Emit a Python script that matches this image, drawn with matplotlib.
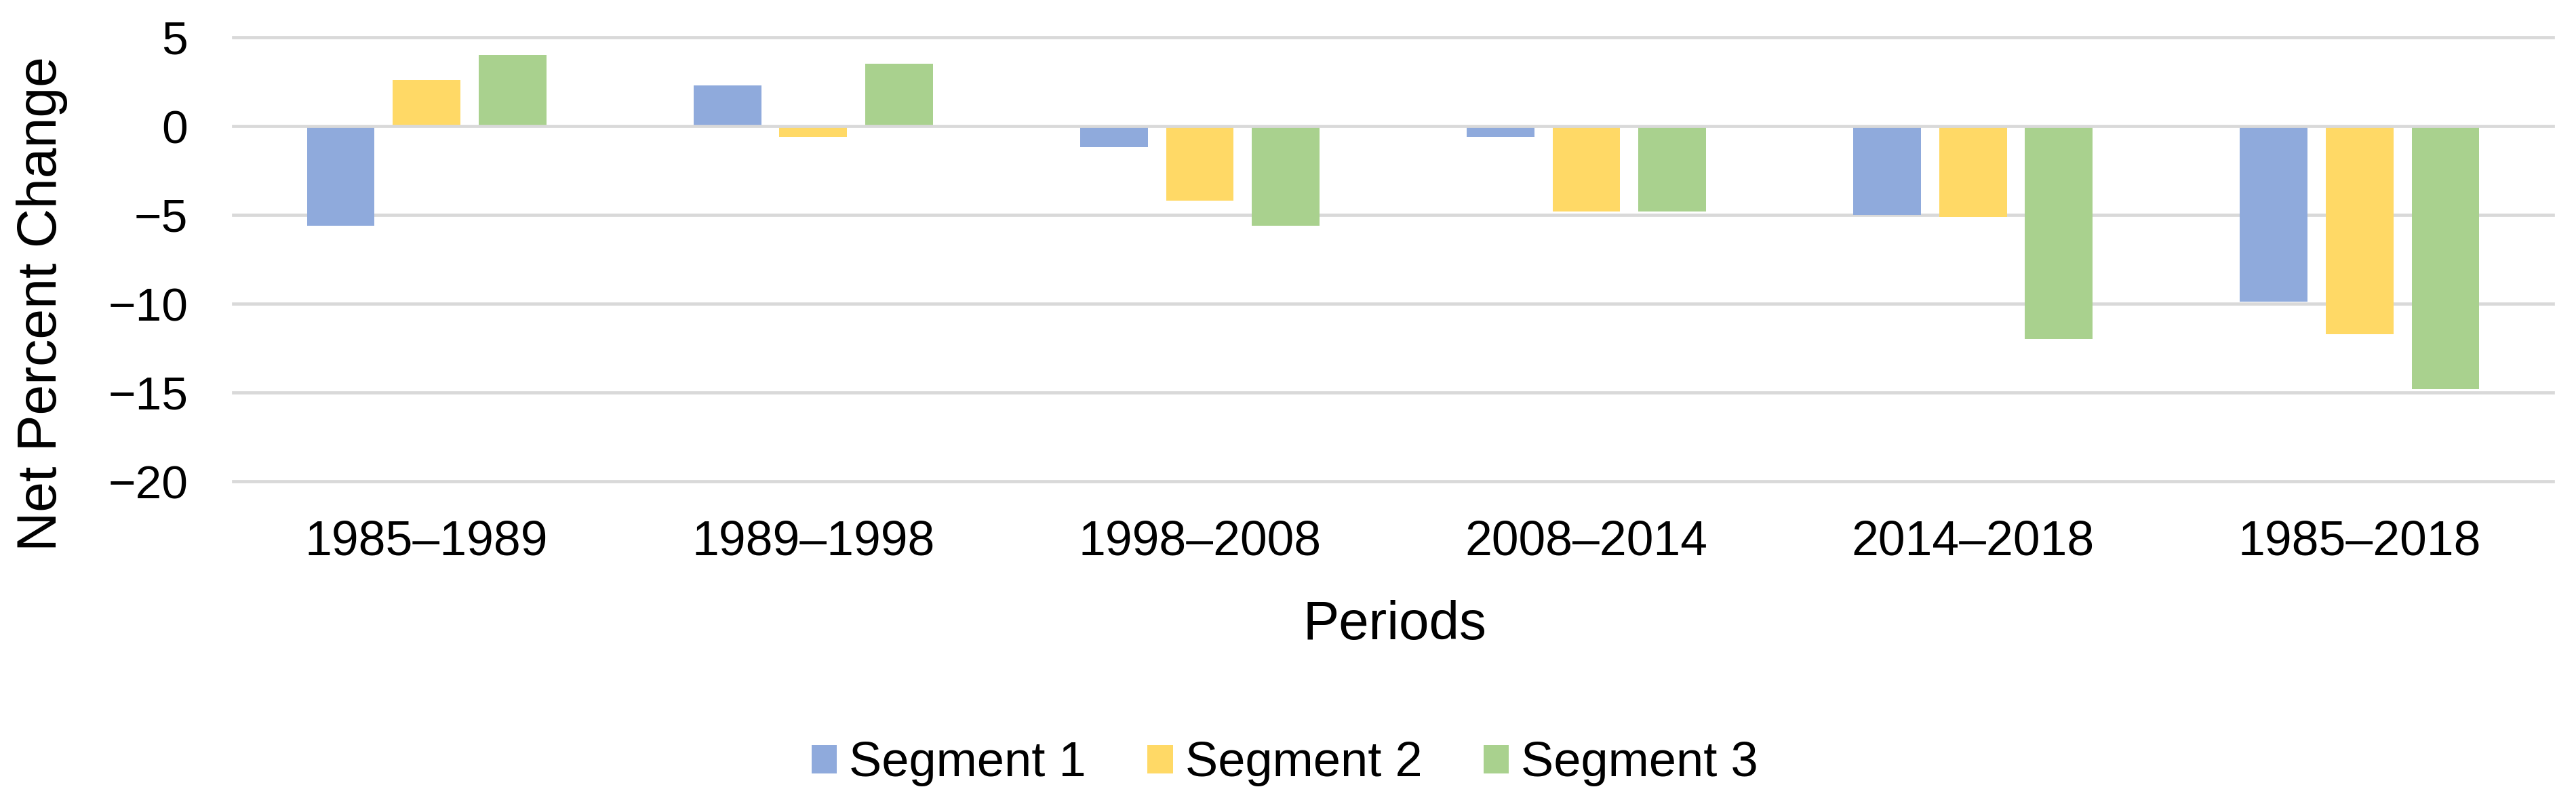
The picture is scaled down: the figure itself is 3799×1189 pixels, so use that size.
import matplotlib
matplotlib.use("Agg")
import matplotlib.pyplot as plt
import numpy as np

plt.rcParams['font.family'] = ['Liberation Sans', 'DejaVu Sans']

periods = ["1985–1989", "1989–1998", "1998–2008", "2008–2014", "2014–2018", "1985–2018"]
segment_1 = [-5.6, 2.3, -1.2, -0.6, -5.0, -9.9]
segment_2 = [2.6, -0.6, -4.2, -4.8, -5.1, -11.7]
segment_3 = [4.0, 3.5, -5.6, -4.8, -12.0, -14.8]
series_names = ["Segment 1", "Segment 2", "Segment 3"]
y_ticks = [5, 0, -5, -10, -15, -20]

colors = ["#8FAADC", "#FFD966", "#A9D18E"]
grid_color = "#D9D9D9"

W, H = 3799, 1189
dpi = 100
fig = plt.figure(figsize=(W / dpi, H / dpi), dpi=dpi)
ax = fig.add_axes([344 / W, 1 - 710 / H, (3765 - 344) / W, (710 - 55) / H])

x = np.arange(len(periods))
bw = 0.175
step = 0.222
for i, (vals, name, c) in enumerate(zip([segment_1, segment_2, segment_3], series_names, colors)):
    ax.bar(x + (i - 1) * step, vals, width=bw, color=c, label=name, zorder=2, linewidth=0)

ax.set_xlim(-0.5, len(periods) - 0.5)
ax.set_ylim(-20, 5)
for t in y_ticks:
    ax.axhline(t, color=grid_color, linewidth=3.4, zorder=3 if t == 0 else 1, clip_on=False)

for s in ax.spines.values():
    s.set_visible(False)

ax.set_yticks(y_ticks)
ax.set_yticklabels([str(v).replace('-', '\u2212') for v in y_ticks])
ax.set_xticks(x)
ax.set_xticklabels(periods)
ax.tick_params(axis='y', length=0, pad=48, labelsize=50)
ax.tick_params(axis='x', length=0, pad=41, labelsize=51.5)

fig.text(62 / W, 1 - 448 / H, "Net Percent Change", rotation=90, ha='center', va='center', fontsize=58)
fig.text(2057 / W, 1 - 943 / H, "Periods", ha='center', va='baseline', fontsize=57.5)

fig.legend(loc='center', bbox_to_anchor=(1895 / W, 1 - 1127 / H), ncol=3, frameon=False,
           fontsize=52, handlelength=0.52, handleheight=0.52, handletextpad=0.25,
           columnspacing=1.25)

fig.savefig("out.png", dpi=dpi, facecolor='white')
